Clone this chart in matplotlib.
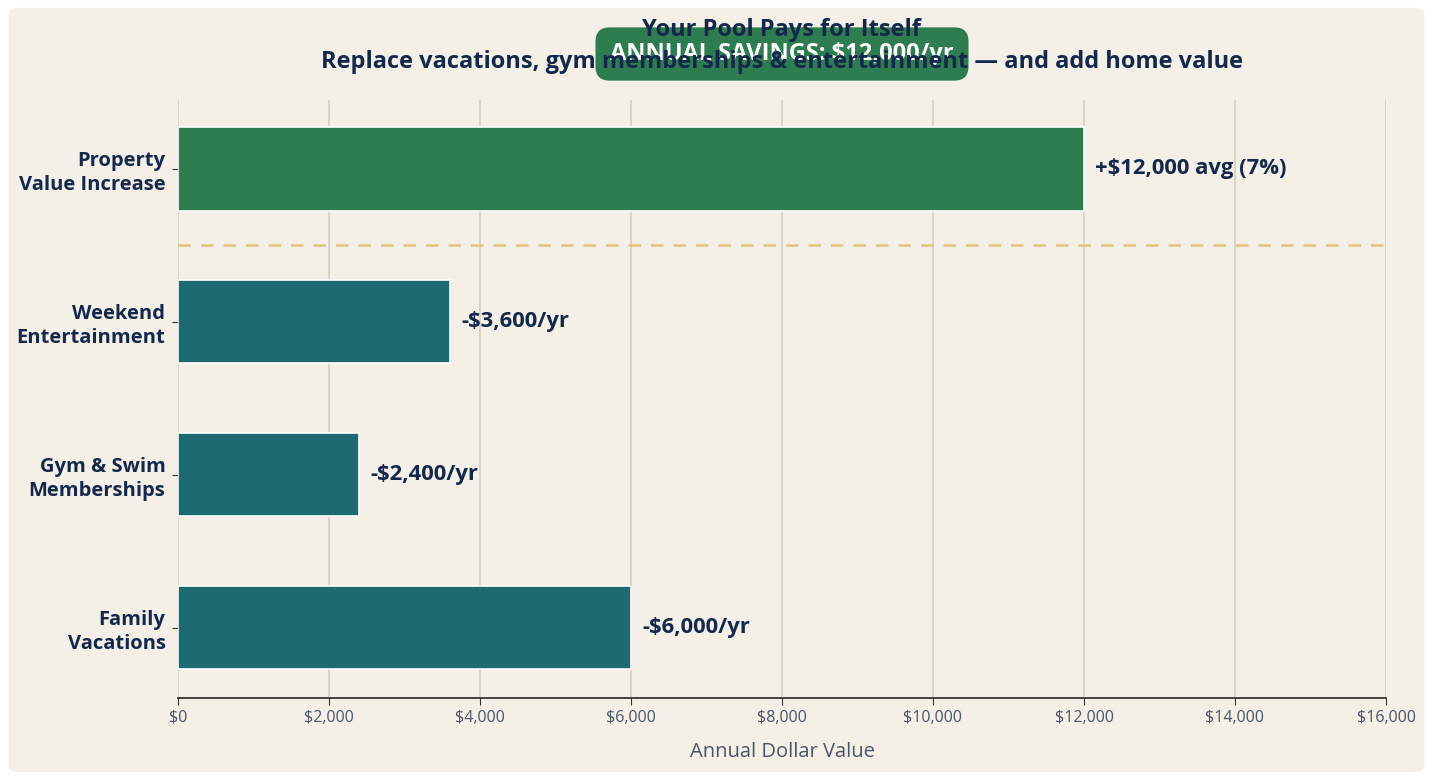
import matplotlib.pyplot as plt
from matplotlib.patches import FancyBboxPatch
from matplotlib.ticker import FuncFormatter

categories = ["Family\nVacations", "Gym & Swim\nMemberships", "Weekend\nEntertainment", "Property\nValue Increase"]
values = [6000, 2400, 3600, 12000]
value_labels = ["-$6,000/yr", "-$2,400/yr", "-$3,600/yr", "+$12,000 avg (7%)"]
bar_colors = ["#1d6a70", "#1d6a70", "#1d6a70", "#2e7d50"]

navy = "#14284b"
gray = "#4a5568"
bg = "#f4f0e8"

plt.rcParams['font.family'] = ['Open Sans', 'DejaVu Sans']

fig = plt.figure(figsize=(14.33, 7.76), dpi=100)
fig.patch.set_facecolor("white")
card = FancyBboxPatch((0.006, 0.005), 0.988, 0.985, boxstyle="round,pad=0,rounding_size=0.008",
                      transform=fig.transFigure, facecolor=bg, edgecolor="none", zorder=-10)
fig.patches.append(card)

ax = fig.add_axes([178 / 1433, 1 - 698 / 776, (1386 - 178) / 1433, (698 - 100) / 776])
ax.set_facecolor(bg)

y = range(len(categories))
ax.barh(y, values, height=0.545, color=bar_colors, edgecolor="white", linewidth=1.2, zorder=3)
for yi, v, lab in zip(y, values, value_labels):
    ax.text(v + 150, yi, lab, va="center", ha="left", fontsize=15.8, fontweight="bold", color=navy, zorder=4)

ax.axhline(2.5, color="#e3c47e", linestyle=(0, (5, 4)), linewidth=1.8, zorder=2)

ax.set_xlim(0, 16000)
ax.set_ylim(-0.46, 3.45)
ax.set_xticks(range(0, 16001, 2000))
ax.xaxis.set_major_formatter(FuncFormatter(lambda x, p: f"${x:,.0f}"))
ax.set_yticks(list(y))
ax.set_yticklabels(categories, fontsize=14.5, fontweight="bold", color=navy, linespacing=1.25)
ax.tick_params(axis="x", colors=gray, labelsize=11.5, length=5, color="#333333")
ax.tick_params(axis="y", length=4, color="#333333", pad=5)
for lab in ax.get_xticklabels():
    lab.set_color(gray)

ax.grid(axis="x", color="#d9d1c1", linewidth=1.3, zorder=0)
ax.grid(axis="y", visible=False)
for s in ["top", "right", "left"]:
    ax.spines[s].set_visible(False)
ax.spines["bottom"].set_color("#333333")
ax.spines["bottom"].set_linewidth(1.3)

ax.set_xlabel("Annual Dollar Value", fontsize=14.5, color=gray, labelpad=12)

fig.text(782 / 1433, 1 - 54 / 776, "ANNUAL SAVINGS: $12,000/yr", ha="center", va="center",
         fontsize=17, fontweight="bold", color="white", zorder=1,
         bbox=dict(boxstyle="round,pad=0.62,rounding_size=0.6", facecolor="#2e7d50", edgecolor="none"))
fig.text(0.5456, 1 - 30 / 776, "Your Pool Pays for Itself", ha="center", va="center",
         fontsize=17, fontweight="bold", color=navy, zorder=5)
fig.text(0.5456, 1 - 62 / 776, "Replace vacations, gym memberships & entertainment \u2014 and add home value",
         ha="center", va="center", fontsize=17, fontweight="bold", color=navy, zorder=5)

fig.savefig("out.png", dpi=100, facecolor=fig.get_facecolor())
